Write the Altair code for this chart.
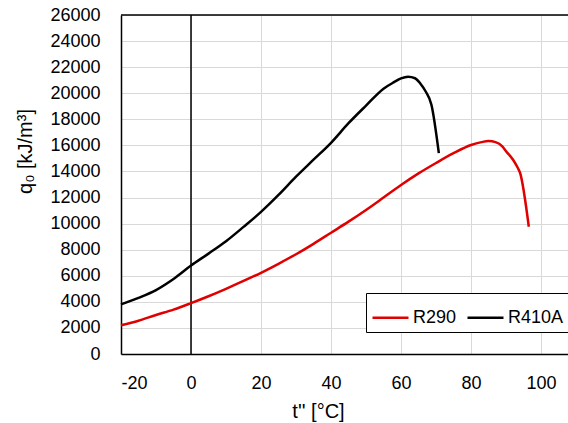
import altair as alt
import pandas as pd

# R290 series
t_r290 = [-20, -15, -10, -5, 0, 5, 10, 15, 20, 25, 30, 35, 40, 45, 50, 55, 60, 65, 70, 75,
          80, 83, 85, 87, 89, 90, 92, 93.3, 94, 96.5]
q_r290 = [2200, 2550, 2990, 3400, 3900, 4430, 5000, 5600, 6230, 6920, 7650, 8450, 9300, 10150,
          11050, 12000, 12960, 13850, 14650, 15400, 16030, 16250, 16330, 16250, 15900, 15550,
          14900, 14300, 13900, 9760]

# R410A series
t_r410a = [-20, -15, -10, -5, 0, 5, 10, 15, 20, 25, 30, 35, 40, 45, 50, 55, 58, 60, 62, 64,
           65.5, 67, 68.7, 70.8]
q_r410a = [3800, 4300, 4900, 5750, 6780, 7700, 8650, 9750, 10900, 12200, 13600, 14900, 16200,
           17700, 19050, 20350, 20850, 21140, 21270, 21150, 20750, 20150, 19100, 15400]

series_names = ["R290", "R410A"]
series_colors = ["#E00000", "#000000"]

x_ticks = [-20, 0, 20, 40, 60, 80, 100]
y_ticks = list(range(0, 26001, 2000))
x_cross = [0]

df = pd.concat([
    pd.DataFrame({"t": t_r290, "q": q_r290, "series": "R290"}),
    pd.DataFrame({"t": t_r410a, "q": q_r410a, "series": "R410A"}),
])

FONT = "Liberation Sans"

x_enc = alt.X("t:Q",
              scale=alt.Scale(domain=[-20, 107.7], nice=False, zero=False),
              axis=alt.Axis(values=x_ticks, title="t'' [°C]", titleX=197, titleY=63,
                            titleBaseline="alphabetic", titleAlign="center",
                            labelPadding=20, labelExpr="toString(datum.value)"))
y_enc = alt.Y("q:Q",
              scale=alt.Scale(domain=[0, 26000], nice=False),
              axis=alt.Axis(values=y_ticks, title="q₀ [kJ/m³]", titleX=-96, titleY=136,
                            titleAngle=-90, titleAlign="center", titleBaseline="middle",
                            labelPadding=21, labelExpr="toString(datum.value)"))

lines = alt.Chart(df).mark_line(strokeWidth=2.5, interpolate="monotone").encode(
    x=x_enc,
    y=y_enc,
    color=alt.Color("series:N",
                    scale=alt.Scale(domain=series_names, range=series_colors),
                    legend=alt.Legend(title=None, orient="none", legendX=245, legendY=278,
                                      direction="horizontal", symbolType="stroke",
                                      symbolSize=1296, symbolStrokeWidth=2.5,
                                      labelFontSize=18, labelFont=FONT, labelColor="black",
                                      padding=5, strokeColor="black", fillColor="white",
                                      columnPadding=5, labelOffset=3)),
)

zero_line = alt.Chart(pd.DataFrame({"t": x_cross})).mark_rule(color="black", strokeWidth=1.5).encode(
    x=alt.X("t:Q")
)

top_line = alt.Chart(pd.DataFrame({"t": x_cross})).mark_rule(color="black", strokeWidth=1.5).encode(
    y=alt.value(0)
)

chart = alt.layer(zero_line, top_line, lines).properties(
    width=447, height=339,
    padding={"left": 121, "top": 15, "right": 0, "bottom": 69},
    autosize=alt.AutoSizeParams(type="none"),
).configure_view(stroke=None).configure_axis(
    domainColor="black", domainWidth=1.5, gridColor="#D9D9D9", gridWidth=1,
    tickSize=0, labelFont=FONT, labelFontSize=18, labelColor="black",
    titleFont=FONT, titleFontSize=20, titleFontWeight="normal", titleColor="black",
)

chart.save("out.html", embed_options={"renderer": "svg", "actions": False})
